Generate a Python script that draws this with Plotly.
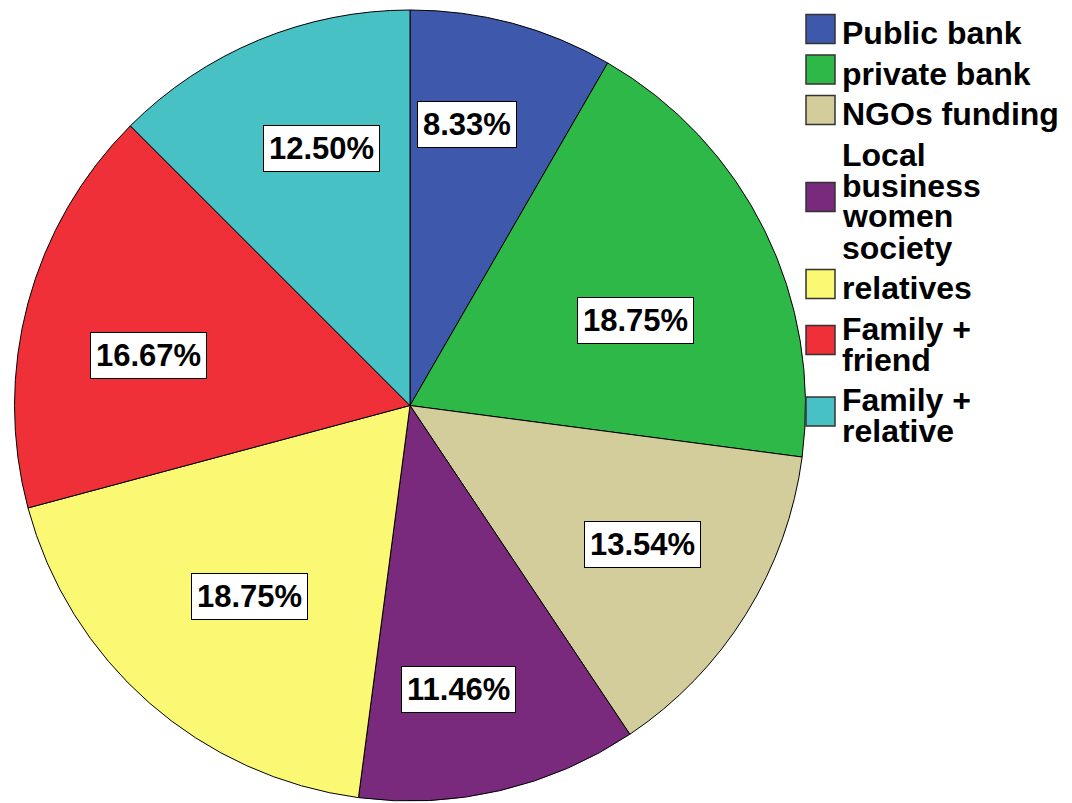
import math
import plotly.graph_objects as go

# Funding sources and their shares (%)
labels = ["Public bank", "private bank", "NGOs funding", "Local business women society",
          "relatives", "Family + friend", "Family + relative"]
shares = [8.33, 18.75, 13.54, 11.46, 18.75, 16.67, 12.50]
# Legend text, wrapped as shown
legend_lines = [["Public bank"], ["private bank"], ["NGOs funding"],
                ["Local", "business", "women", "society"],
                ["relatives"], ["Family +", "friend"], ["Family +", "relative"]]

colors = ["#3E58AC", "#2EB848", "#D3CD9B", "#792A7D", "#FBF874", "#EF3039", "#48C1C5"]

# label box placement: fraction of radius and angular nudge (deg) per slice
label_radius = [0.725, 0.61, 0.685, 0.728, 0.63, 0.672, 0.687]
label_turn = [-3.6, 5.7, -0.9, 3.5, -1.2, -4.2, 3.5]

W, H = 1072, 803
FONT = "Liberation Sans, Arial, sans-serif"

# pie placement in pixels
x0, x1, y0, y1 = 12, 808, 10, 801
cx, cy = (x0 + x1) / 2, (y0 + y1) / 2
R = min(x1 - x0, y1 - y0) / 2

def px(x):
    return x / W

def py(y):
    return 1 - y / H

fig = go.Figure(go.Pie(
    labels=labels, values=shares, sort=False, direction="clockwise", rotation=0,
    marker=dict(colors=colors, line=dict(color="black", width=1)),
    textinfo="none", hoverinfo="label+percent", showlegend=False,
    domain=dict(x=[px(x0), px(x1)], y=[py(y1), py(y0)]),
))

annotations = []
shapes = []

# percentage boxes placed along each slice's mid angle
total = sum(shares)
cum = 0.0
for i, v in enumerate(shares):
    mid = (cum + v / 2) / total * 2 * math.pi + math.radians(label_turn[i])
    cum += v
    k = label_radius[i]
    lx = cx + k * R * math.sin(mid)
    ly = cy - k * R * math.cos(mid)
    annotations.append(dict(
        x=px(lx), y=py(ly), xref="paper", yref="paper", showarrow=False,
        text=f"<b>{v:.2f}%</b>", font=dict(family=FONT, size=31, color="black"),
        bgcolor="white", bordercolor="black", borderwidth=1, borderpad=5,
        xanchor="center", yanchor="middle",
    ))

# legend: colour swatch plus wrapped bold text
base = 44.0
line_gap = 31.0
entry_gap = 40.5
sq = 29
for i, lines in enumerate(legend_lines):
    baselines = [base + j * line_gap for j in range(len(lines))]
    for b, t in zip(baselines, lines):
        annotations.append(dict(
            x=px(841), y=py(b - 11), xref="paper", yref="paper", showarrow=False,
            text=f"<b>{t}</b>", font=dict(family=FONT, size=32, color="black"),
            xanchor="left", yanchor="middle", borderpad=0,
        ))
    mc = sum(baselines) / len(baselines) - 15
    shapes.append(dict(
        type="rect", xref="paper", yref="paper",
        x0=px(806), x1=px(806 + sq), y0=py(mc + sq / 2), y1=py(mc - sq / 2),
        fillcolor=colors[i], line=dict(color="#333333", width=1.5),
    ))
    base = baselines[-1] + entry_gap

fig.update_layout(
    width=W, height=H, margin=dict(l=0, r=0, t=0, b=0),
    paper_bgcolor="white", plot_bgcolor="white",
    annotations=annotations, shapes=shapes,
)

fig.write_html("out.html")
